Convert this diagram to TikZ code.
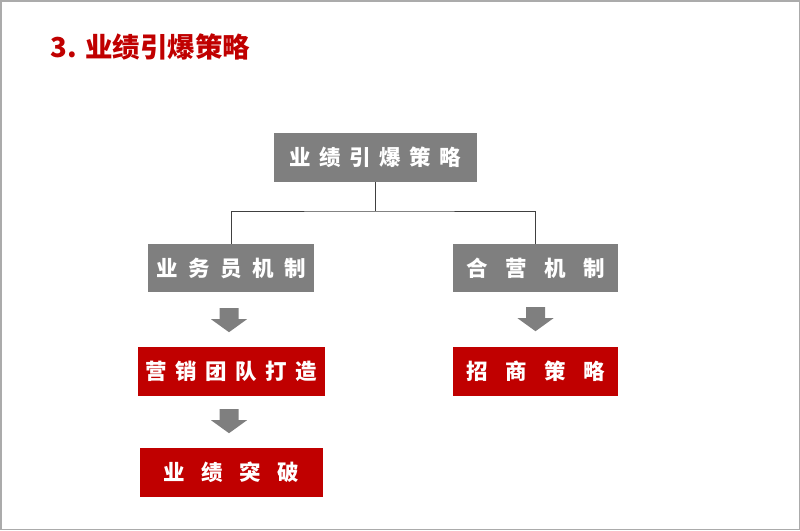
\documentclass[tikz,border=0pt]{standalone}
\usepackage{fontspec}
\usepackage{tikz}
\usetikzlibrary{calc}
\newfontfamily\cjk{Noto Sans CJK SC}
\definecolor{boxred}{HTML}{C00000}
\definecolor{boxgray}{HTML}{7F7F7F}
\definecolor{linegray}{HTML}{404040}
\definecolor{framegray}{HTML}{ABABAB}
% spread the letters of a word with a gap
\newcommand\spread[2]{\def\sgap{#1}\spreadi#2\relax}
\def\spreadi#1{\ifx\relax#1\else#1\expandafter\spreadii\fi}
\def\spreadii#1{\ifx\relax#1\else\hspace{\sgap}#1\expandafter\spreadii\fi}
\newcommand\downarrowat[1]{\fill[boxgray] (#1) ++(-9.5,0) -- ++(19,0) -- ++(0,11) -- ++(8.5,0) -- ++(-18,13) -- ++(-18,-13) -- ++(8.5,0) -- cycle;}

\begin{document}
\begin{tikzpicture}[x=1pt,y=-1pt,
		graybox/.style={fill=boxgray,text=white,inner sep=0pt,font=\cjk\bfseries\fontsize{21.5}{21.5}\selectfont},
		redbox/.style={fill=boxred,text=white,inner sep=0pt,font=\cjk\bfseries\fontsize{21.5}{21.5}\selectfont},
		link/.style={draw=linegray,line width=1pt}]
		\useasboundingbox (0,0) rectangle (800,530);
		\draw[framegray,line width=1.5pt] (0.75,0.75) rectangle (799.25,529.25);
		\node[anchor=base west,text=boxred,font=\cjk\bfseries\fontsize{27.5}{27.5}\selectfont] (title) at (47,57) {3. 业绩引爆策略};
		\node[graybox,minimum width=203,minimum height=49] (root) at (375.5,157.5) {\spread{8.5pt}{业绩引爆策略}};
		\node[graybox,minimum width=166,minimum height=48] (staff) at (231,268) {\spread{10.5pt}{业务员机制}};
		\node[graybox,minimum width=165,minimum height=48] (joint) at (535.5,268) {\spread{17.5pt}{合营机制}};
		\node[redbox,minimum width=187,minimum height=49] (team) at (231.5,371.5) {\spread{8.5pt}{营销团队打造}};
		\node[redbox,minimum width=183,minimum height=49] (result) at (231.5,472.5) {\spread{16.5pt}{业绩突破}};
		\node[redbox,minimum width=165,minimum height=49] (invest) at (535.5,371.5) {\spread{17.5pt}{招商策略}};
		\coordinate (split) at (375.5,211);
		\draw[link] (root.south) -- (split);
		\draw[link] (staff.north) |- (split) -| (joint.north);
		\downarrowat{$(staff.south)+(-2,16)$}
		\downarrowat{$(team.south)+(-2.5,13)$}
		\downarrowat{$(joint.south)+(0,15)$}
	\end{tikzpicture}
\end{document}
